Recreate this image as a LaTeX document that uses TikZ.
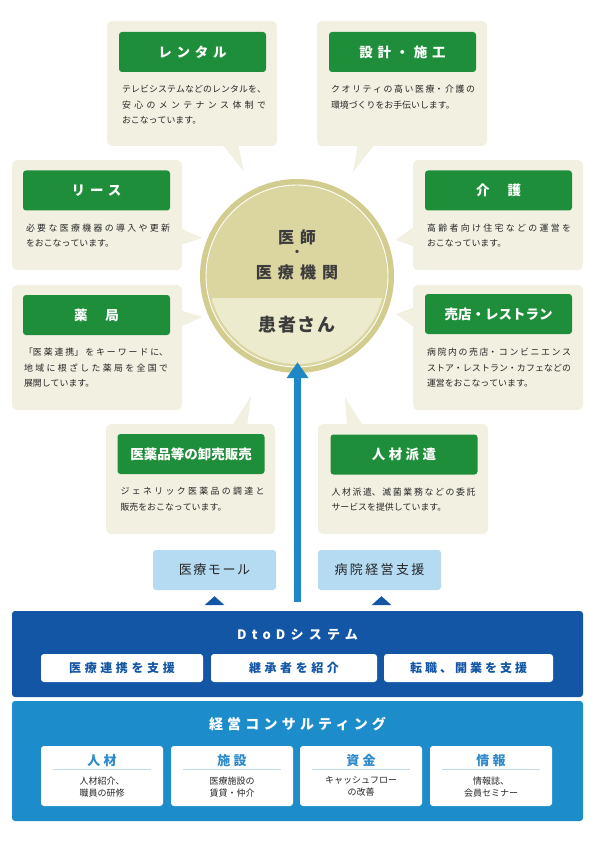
\documentclass[tikz,border=0pt]{standalone}
\usepackage{fontspec}
\setmainfont{Noto Sans CJK JP}
\usetikzlibrary{positioning, arrows.meta, calc}
\XeTeXlinebreaklocale "ja"
\XeTeXlinebreakskip=0pt plus 2pt
\hbadness=10000

\definecolor{textgray}{HTML}{262626}
\definecolor{bubblefill}{HTML}{F2F0E1}
\definecolor{leafgreen}{HTML}{1F8E3A}
\definecolor{ringkhaki}{HTML}{D3CC8F}
\definecolor{innerkhaki}{HTML}{DBD5A0}
\definecolor{lightkhaki}{HTML}{EDEBCD}
\definecolor{arrowblue}{HTML}{1E87C5}
\definecolor{paleblue}{HTML}{B4DBF2}
\definecolor{navyblue}{HTML}{1256A5}
\definecolor{consultblue}{HTML}{1C8DCA}
\definecolor{cardblue}{HTML}{2E8ACB}
\definecolor{dividerblue}{HTML}{C4D9EA}

\begin{document}
\begin{tikzpicture}[x=1pt, y=-1pt,
    bubble/.style={fill=bubblefill, rounded corners=5pt},
    titlebar/.style={fill=leafgreen, rounded corners=3pt, minimum width=147pt, minimum height=40pt, inner sep=0pt, text=white, font=\fontsize{13.5}{16}\selectfont\bfseries},
    desc/.style={text width=144pt, align=justify, inner sep=0pt, text=textgray, font=\fontsize{8.9}{15.5}\selectfont},
    centertext/.style={inner sep=0pt, text=textgray!90, font=\bfseries},
    supportbox/.style={fill=paleblue, rounded corners=3pt, minimum width=123pt, minimum height=40pt, inner sep=0pt, text=textgray, font=\fontsize{13}{15}\selectfont},
    bandtitle/.style={inner sep=0pt, text=white, font=\fontsize{13}{15}\selectfont\bfseries},
    servicebox/.style={fill=white, rounded corners=3pt, minimum height=28pt, inner sep=0pt, text=navyblue, font=\fontsize{12}{14}\selectfont\bfseries},
    card/.style={fill=white, rounded corners=3pt, minimum width=122pt, minimum height=60pt, inner sep=0pt},
    cardhead/.style={inner sep=0pt, text=cardblue, font=\fontsize{13}{15}\selectfont\bfseries},
    cardtext/.style={inner sep=0pt, align=center, text=textgray, font=\fontsize{9}{12}\selectfont}
  ]
  \useasboundingbox (0,0) rectangle (595,842);

  % Bubble: rental
  \fill[bubble] (107,21) rectangle (277,146);
  \fill[bubblefill] (222,144) -- (244,172) -- (238,144) -- cycle;
  \node[titlebar] (rentalT) at (192.5,52) {\addfontfeature{LetterSpace=35}レンタル};
  \node[desc, below right=13pt and 3pt of rentalT.south west] (rentalD) {テレビシステムなどのレンタルを、\linebreak 安心のメンテナンス体制で\linebreak おこなっています。};

  % Bubble: design and construction
  \fill[bubble] (317,21) rectangle (487,146);
  \fill[bubblefill] (358,144) -- (353,172) -- (375,144) -- cycle;
  \node[titlebar] (designT) at (402.5,52) {\addfontfeature{LetterSpace=35}設計・施工};
  \node[desc, below right=13pt and 2pt of designT.south west] (designD) {クオリティの高い医療・介護の\linebreak 環境づくりをお手伝いします。};

  % Bubble: lease
  \fill[bubble] (12,160) rectangle (182,270);
  \fill[bubblefill] (180,228) -- (202,238) -- (180,245) -- cycle;
  \node[titlebar] (leaseT) at (96.5,190.5) {\addfontfeature{LetterSpace=37}リース};
  \node[desc, below right=13pt and 3pt of leaseT.south west] (leaseD) {必要な医療機器の導入や更新\linebreak をおこなっています。};

  % Bubble: nursing care
  \fill[bubble] (413,160) rectangle (583,270);
  \fill[bubblefill] (415,226) -- (396,240) -- (415,247) -- cycle;
  \node[titlebar] (careT) at (498.5,190.5) {介\hspace{18pt}護};
  \node[desc, below right=13pt and 2pt of careT.south west] (careD) {高齢者向け住宅などの運営を\linebreak おこなっています。};

  % Bubble: pharmacy
  \fill[bubble] (12,285) rectangle (182,410);
  \fill[bubblefill] (180,310) -- (202,317) -- (180,327) -- cycle;
  \node[titlebar] (pharmacyT) at (96.5,315) {薬\hspace{18pt}局};
  \node[desc, below right=13pt and 1pt of pharmacyT.south west] (pharmacyD) {「医薬連携」をキーワードに、\linebreak 地域に根ざした薬局を全国で\linebreak 展開しています。};

  % Bubble: shops and restaurants
  \fill[bubble] (413,285) rectangle (583,410);
  \fill[bubblefill] (415,307) -- (396,314) -- (415,328) -- cycle;
  \node[titlebar] (shopT) at (498.5,314) {売店・レストラン};
  \node[desc, below right=14pt and 2pt of shopT.south west] (shopD) {病院内の売店・コンビニエンス\linebreak ストア・レストラン・カフェなどの\linebreak 運営をおこなっています。};

  % Bubble: wholesale of medicines
  \fill[bubble] (106,424) rectangle (275,534);
  \fill[bubblefill] (232,426) -- (251,396) -- (247,426) -- cycle;
  \node[titlebar] (wholesaleT) at (191,454) {医薬品等の卸売販売};
  \node[desc, below right=13pt and 3pt of wholesaleT.south west] (wholesaleD) {ジェネリック医薬品の調達と\linebreak 販売をおこなっています。};

  % Bubble: staffing
  \fill[bubble] (318,424) rectangle (488,534);
  \fill[bubblefill] (347,426) -- (345,397) -- (363,426) -- cycle;
  \node[titlebar] (staffT) at (404,454.5) {\addfontfeature{LetterSpace=25}人材派遣};
  \node[desc, below right=13pt and 1pt of staffT.south west] (staffD) {人材派遣、滅菌業務などの委託\linebreak サービスを提供しています。};

  % The circle in the middle
  \node[circle, fill=ringkhaki, minimum size=194pt, inner sep=0pt] (doctor) at (297,276) {};
  \fill[innerkhaki] (doctor.center) circle[radius=91];
  \begin{scope}
    \clip (doctor.center) circle[radius=88];
    \fill[lightkhaki] (190,298) rectangle (400,380);
  \end{scope}
  \draw[white, line width=0.9pt] (doctor.center) circle[radius=91];
  \node[centertext, font=\fontsize{16}{18}\selectfont\bfseries] (doctorT) at (297,237) {\addfontfeature{LetterSpace=35}医師};
  \node[centertext, font=\fontsize{12}{14}\selectfont\bfseries] (dotT) at (297,253) {・};
  \node[centertext, font=\fontsize{16}{18}\selectfont\bfseries] (hospitalT) at (297,272) {\addfontfeature{LetterSpace=38}医療機関};
  \node[centertext, font=\fontsize{18}{20}\selectfont\bfseries] (patientT) at (297,325) {\addfontfeature{LetterSpace=10}患者さん};

  % Support services
  \node[supportbox] (mall) at (214.5,570) {\addfontfeature{LetterSpace=12}医療モール};
  \node[supportbox] (management) at (379.5,570) {\addfontfeature{LetterSpace=18}病院経営支援};
  \fill[navyblue] ([xshift=-10pt, yshift=-15pt]mall.south) -- ([yshift=-6pt]mall.south) -- ([xshift=10pt, yshift=-15pt]mall.south) -- cycle;
  \fill[navyblue] ([xshift=-8pt, yshift=-15pt]management.south) -- ([xshift=2pt, yshift=-6pt]management.south) -- ([xshift=12pt, yshift=-15pt]management.south) -- cycle;

  % DtoD system
  \node[fill=navyblue, rounded corners=3pt, minimum width=571pt, minimum height=86pt] (dtod) at (297.5,654) {};
  \node[bandtitle] (dtodT) at (297.5,635) {\addfontfeature{LetterSpace=40}DtoDシステム};
  \node[servicebox, minimum width=162pt] (linkage) at (122,668) {\addfontfeature{LetterSpace=30}医療連携を支援};
  \node[servicebox, minimum width=166pt] (successor) at (294,668) {\addfontfeature{LetterSpace=30}継承者を紹介};
  \node[servicebox, minimum width=169pt] (opening) at (468.5,668) {\addfontfeature{LetterSpace=25}転職、開業を支援};

  % The arrow up to the circle
  \coordinate (arrowfoot) at ([yshift=9pt]dtod.north);
  \coordinate (arrowtip) at ([yshift=11pt]doctor.south);
  \draw[arrowblue, line width=7pt, -{Triangle[width=21pt, length=16pt]}] (arrowfoot) -- (arrowfoot |- arrowtip);

  % Management consulting
  \node[fill=consultblue, rounded corners=3pt, minimum width=571pt, minimum height=120pt] (consult) at (297.5,761) {};
  \node[bandtitle, font=\fontsize{14}{16}\selectfont\bfseries] (consultT) at (297.5,724) {\addfontfeature{LetterSpace=30}経営コンサルティング};

  \node[card] (people) at (102,776) {};
  \node[cardhead] at ([yshift=-15pt]people.north) {\addfontfeature{LetterSpace=25}人材};
  \draw[dividerblue] ([xshift=12pt, yshift=-23pt]people.north west) -- ([xshift=-12pt, yshift=-23pt]people.north east);
  \node[cardtext] at ([yshift=-41pt]people.north) {人材紹介、\\職員の研修};

  \node[card] (facility) at (232,776) {};
  \node[cardhead] at ([yshift=-15pt]facility.north) {\addfontfeature{LetterSpace=25}施設};
  \draw[dividerblue] ([xshift=12pt, yshift=-23pt]facility.north west) -- ([xshift=-12pt, yshift=-23pt]facility.north east);
  \node[cardtext] at ([yshift=-41pt]facility.north) {医療施設の\\賃貸・仲介};

  \node[card] (funds) at (361,776) {};
  \node[cardhead] at ([yshift=-15pt]funds.north) {\addfontfeature{LetterSpace=25}資金};
  \draw[dividerblue] ([xshift=12pt, yshift=-23pt]funds.north west) -- ([xshift=-12pt, yshift=-23pt]funds.north east);
  \node[cardtext] at ([yshift=-41pt]funds.north) {キャッシュフロー\\の改善};

  \node[card] (info) at (491,776) {};
  \node[cardhead] at ([yshift=-15pt]info.north) {\addfontfeature{LetterSpace=25}情報};
  \draw[dividerblue] ([xshift=12pt, yshift=-23pt]info.north west) -- ([xshift=-12pt, yshift=-23pt]info.north east);
  \node[cardtext] at ([yshift=-41pt]info.north) {情報誌、\\会員セミナー};
\end{tikzpicture}
\end{document}
